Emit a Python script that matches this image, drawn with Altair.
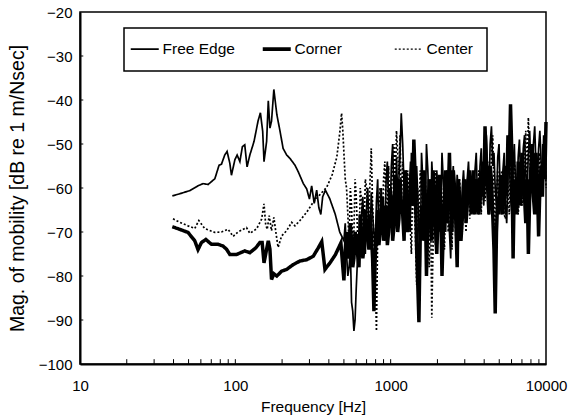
import altair as alt
import pandas as pd

series_names = ["Free Edge", "Corner", "Center"]

# ---- low-frequency part ----
fe_lo_freq = [39.3, 43.9, 50.9, 57.5, 62.0, 66.8, 73.8, 78.6, 81.4, 85.5,
              88.5, 92.2, 94.4, 99.3, 102.7, 107, 111, 115, 119, 124,
              132, 140, 145, 150, 153, 159, 163, 167, 171, 177,
              185, 194, 203, 214, 225, 242, 254, 274, 288, 300,
              310, 322, 334, 345, 355, 365, 380, 405, 440, 470]
fe_lo_mag = [-61.8, -61.3, -60.6, -59.5, -59.0, -59.2, -57.9, -54.8, -54.6, -52.5,
             -51.7, -54.4, -57.1, -53.6, -52.5, -54.0, -50.6, -50.2, -55.2, -52.5,
             -49.4, -44.8, -42.9, -47.1, -54.0, -49.4, -40.2, -46.4, -44.8, -37.6,
             -43.3, -47.1, -51.0, -52.5, -53.3, -54.8, -56.3, -59.0, -60.2, -62.5,
             -59.5, -63.5, -60.5, -64.5, -66.0, -62.0, -60.5, -62.4, -66.0, -70.0]

co_lo_freq = [39.3, 43.9, 49.6, 54.8, 57.5, 60.5, 64.6, 70.2, 77.4, 83.4,
              87.7, 92.2, 101.9, 115, 124, 135.5, 143.8, 148.8, 153, 159,
              163, 167, 171, 177, 185, 198.6, 214, 236, 260.6, 288,
              317.6, 342, 360, 377.6, 407, 440, 478]
co_lo_mag = [-68.8, -69.4, -70.1, -72.0, -74.0, -72.4, -71.7, -72.8, -72.8, -73.2,
             -73.9, -75.1, -75.1, -74.3, -74.7, -73.6, -72.4, -72.4, -77.0, -73.9,
             -72.0, -73.9, -80.8, -79.5, -80.0, -78.9, -78.5, -77.4, -76.6, -76.3,
             -75.5, -73.6, -72.2, -78.5, -77.0, -75.2, -72.5]

ce_lo_freq = [39.7, 43.9, 49.6, 54.8, 58.2, 63.5, 73.8, 81.4, 89.8, 96.8,
              104, 118, 124, 137, 147.6, 153, 156.7, 160.4, 165.2, 171,
              177, 185, 188.6, 198.6, 214, 230.5, 242, 260.6, 288, 317.6,
              350.6, 388, 420, 450, 470, 483, 492]
ce_lo_mag = [-67.0, -67.8, -68.6, -69.2, -67.4, -69.2, -70.1, -70.0, -69.4, -71.0,
             -70.0, -69.0, -70.3, -69.3, -67.1, -63.6, -68.2, -69.4, -66.3, -69.7,
             -66.7, -71.6, -73.5, -70.9, -69.7, -67.8, -68.6, -67.4, -65.5, -63.2,
             -61.5, -59.8, -57.0, -53.0, -47.5, -43.0, -47.0]

# ---- high-frequency part (dense) ----
hf_freq = [500, 520, 540, 560, 580, 600, 625, 650, 675, 700,
           725, 750, 780, 810, 840, 870, 900, 935, 970, 1010,
           1050, 1090, 1130, 1170, 1220, 1260, 1310, 1360, 1410, 1470,
           1520, 1580, 1640, 1700, 1770, 1840, 1910, 1980, 2060, 2140,
           2220, 2300, 2390, 2480, 2580, 2680, 2780, 2890, 3000, 3110,
           3230, 3360, 3490, 3620, 3760, 3900, 4050, 4210, 4370, 4540,
           4710, 4890, 5080, 5280, 5480, 5690, 5910, 6140, 6370, 6620,
           6870, 7140, 7410, 7700, 8000, 8300, 8620, 8960, 9300, 9660,
           10000]
hf2_freq = [510, 530, 550, 570, 590, 612, 637, 662, 687, 712,
            737, 765, 795, 825, 855, 885, 917, 952, 990, 1030,
            1070, 1110, 1150, 1195, 1240, 1285, 1335, 1385, 1440, 1495,
            1550, 1610, 1670, 1735, 1805, 1875, 1945, 2020, 2100, 2180,
            2260, 2345, 2435, 2530, 2630, 2730, 2835, 2945, 3055, 3170,
            3295, 3425, 3555, 3690, 3830, 3975, 4130, 4290, 4455, 4625,
            4800, 4985, 5180, 5380, 5585, 5800, 6025, 6255, 6495, 6745,
            7005, 7275, 7555, 7850, 8150, 8460, 8790, 9130, 9480, 9830]

fe_hi_mag = [-72, -75, -78, -86, -92.5, -83, -70, -66, -72, -64,
             -69, -61, -70, -63, -71, -60, -66, -58, -64, -55,
             -62, -53, -58, -43, -60, -56, -66, -52, -61, -55,
             -70, -52, -63, -50, -66, -54, -68, -56, -63, -52,
             -66, -58, -70, -60, -65, -57, -64, -60, -62, -58,
             -61, -60, -56, -62, -55, -60, -52, -57, -50, -55,
             -60, -53, -62, -56, -64, -57, -62, -55, -60, -53,
             -58, -51, -57, -52, -56, -50, -55, -51, -54, -48,
             -58]
fe_hi2_mag = [-68, -80, -74, -88, -90, -76, -74, -62, -75, -60,
              -72, -66, -74, -58, -66, -70, -72, -54, -68, -50,
              -66, -62, -52, -50, -64, -60, -70, -57, -66, -62,
              -78, -58, -68, -56, -72, -60, -73, -61, -67, -58,
              -70, -63, -76, -55, -69, -61, -68, -56, -66, -54,
              -65, -64, -52, -66, -51, -64, -48, -61, -46, -52,
              -64, -50, -66, -52, -68, -53, -66, -50, -64, -49,
              -62, -48, -61, -47, -60, -46, -59, -47, -58, -52]

co_hi_mag = [-81, -70, -74, -72, -76, -71, -78, -70, -73, -68,
             -74, -70, -88, -71, -73, -66, -72, -64, -70, -62,
             -69, -60, -67, -63, -72, -60, -68, -54, -49, -74,
             -90.5, -64, -56, -80, -58, -72, -60, -75, -57, -80,
             -62, -68, -52, -70, -60, -78, -62, -67, -58, -64,
             -56, -62, -66, -58, -63, -54, -46, -60, -55, -66,
             -88.5, -62, -57, -66, -55, -48, -41, -76, -60, -54,
             -64, -56, -68, -75, -55, -62, -52, -71, -55, -50,
             -45]
co_hi2_mag = [-74, -76, -68, -78, -70, -75, -66, -76, -65, -72,
              -66, -76, -76, -65, -70, -62, -68, -73, -60, -72,
              -57, -70, -58, -66, -56, -70, -60, -64, -58, -82,
              -70, -72, -62, -66, -64, -56, -68, -66, -64, -70,
              -56, -62, -64, -56, -68, -58, -72, -62, -68, -58,
              -66, -56, -60, -66, -58, -62, -54, -66, -58, -74,
              -70, -66, -60, -58, -62, -55, -52, -58, -66, -59,
              -52, -62, -58, -62, -50, -66, -58, -60, -62, -58]

ce_hi_mag = [-52, -60, -73, -64, -70, -62, -74, -63, -69, -60,
             -66, -51, -72, -92.5, -64, -70, -58, -66, -55, -62,
             -50, -47, -57, -64, -58, -70, -61, -75, -63, -82,
             -68, -60, -72, -64, -78, -89.5, -66, -58, -70, -62,
             -74, -56, -66, -74, -62, -68, -58, -70, -64, -60,
             -67, -62, -58, -65, -60, -56, -63, -54, -61, -48,
             -70, -56, -63, -58, -67, -60, -53, -62, -57, -66,
             -55, -60, -47, -44, -60, -54, -64, -58, -62, -56,
             -60]
ce_hi2_mag = [-58, -66, -60, -74, -58, -70, -60, -72, -58, -70,
              -58, -64, -80, -70, -60, -66, -54, -64, -66, -54,
              -60, -52, -48, -54, -66, -56, -68, -58, -70, -60,
              -56, -66, -58, -70, -62, -72, -56, -64, -58, -68,
              -62, -70, -58, -64, -72, -60, -66, -58, -70, -56,
              -58, -66, -62, -56, -66, -61, -57, -66, -52, -60,
              -62, -66, -56, -66, -56, -66, -60, -54, -60, -62,
              -64, -54, -58, -52, -56, -62, -54, -52, -58, -50]

x_axis_values = [10, 20, 30, 40, 50, 60, 70, 80, 90,
                 100, 200, 300, 400, 500, 600, 700, 800, 900,
                 1000, 2000, 3000, 4000, 5000, 6000, 7000, 8000, 9000, 10000]
x_minor_ticks = [20, 30, 40, 50, 60, 70, 80, 90,
                 100, 200, 300, 400, 500, 600, 700, 800, 900,
                 1000, 2000, 3000, 4000, 5000, 6000, 7000, 8000, 9000]
y_axis_values = [-100, -90, -80, -70, -60, -50, -40, -30, -20]
y_minor_ticks = [-90, -80, -70, -60, -50, -40, -30]

rows = []


def add(name, freqs, mags):
    for f, m in zip(freqs, mags):
        rows.append({"series": name, "freq": f, "mag": m})


add("Free Edge", fe_lo_freq + hf_freq + hf2_freq, fe_lo_mag + fe_hi_mag + fe_hi2_mag)
add("Corner", co_lo_freq + hf_freq + hf2_freq, co_lo_mag + co_hi_mag + co_hi2_mag)
add("Center", ce_lo_freq + hf_freq + hf2_freq, ce_lo_mag + ce_hi_mag + ce_hi2_mag)
df = pd.DataFrame(rows)

FONT = "Liberation Sans"
x_scale = alt.Scale(type="log", domain=[10, 10000], nice=False)
y_scale = alt.Scale(domain=[-100, -20], nice=False, zero=False)

x_axis = alt.Axis(
    values=x_axis_values,
    labelExpr="(datum.value == 10 || datum.value == 100 || datum.value == 1000 || datum.value == 10000) ? format(datum.value, 'd') : ''",
    title="Frequency [Hz]",
    labelFontSize=15, titleFontSize=15.5, labelPadding=14, titlePadding=6,
    ticks=False, grid=False, labelFlush=False, labelOverlap=False,
)
y_axis = alt.Axis(
    values=y_axis_values,
    title="Mag. of mobility [dB re 1 m/Nsec]",
    labelFontSize=15, titleFontSize=19.5, labelPadding=8, titlePadding=11,
    ticks=False, grid=False, labelFlush=False,
)

legend_symbol_width = alt.ExprRef(
    expr="datum.value === 'Corner' ? 3.6 : (datum.value === 'Center' ? 1.4 : 1.8)"
)

lines = alt.Chart(df).mark_line(color="black").encode(
    x=alt.X("freq:Q", scale=x_scale, axis=x_axis),
    y=alt.Y("mag:Q", scale=y_scale, axis=y_axis),
    strokeDash=alt.StrokeDash(
        "series:N",
        scale=alt.Scale(domain=series_names, range=[[1, 0], [1, 0], [2, 2]]),
        legend=alt.Legend(
            title=None,
            orient="none",
            legendX=44,
            legendY=16,
            direction="horizontal",
            gridAlign="all",
            columnPadding=20,
            padding=13,
            symbolType="stroke",
            symbolSize=784,
            symbolStrokeColor="black",
            symbolStrokeWidth=legend_symbol_width,
            labelOffset=10,
            labelFontSize=15.5,
            labelFont=FONT,
            labelColor="black",
            strokeColor="black",
            fillColor="white",
        ),
    ),
    strokeWidth=alt.condition(
        "datum.series === 'Corner'", alt.value(3.5),
        alt.value(1.7),
    ),
    detail="series:N",
    order="freq:Q",
)

xt_df = pd.DataFrame({"freq": x_minor_ticks})
x_ticks = alt.Chart(xt_df).mark_rule(color="black", strokeWidth=1).encode(
    x=alt.X("freq:Q", scale=x_scale, axis=x_axis),
    y=alt.datum(-100),
    y2=alt.datum(-98.9),
)

yt_df = pd.DataFrame({"mag": y_minor_ticks})
y_ticks = alt.Chart(yt_df).mark_rule(color="black", strokeWidth=1).encode(
    y=alt.Y("mag:Q", scale=y_scale, axis=y_axis),
    x=alt.datum(10),
    x2=alt.datum(10.5),
)

chart = alt.layer(lines, x_ticks, y_ticks).properties(
    width=466,
    height=352,
    autosize=alt.AutoSizeParams(type="none"),
    padding={"left": 80, "top": 12, "right": 29, "bottom": 55},
    background="white",
).configure_view(
    stroke="black", strokeWidth=1.5,
).configure_axis(
    domainColor="black", domainWidth=2,
    labelColor="black", titleColor="black",
    labelFont=FONT, titleFont=FONT, titleFontWeight="normal",
).configure_legend(
    strokeWidth=1.5,
)

chart.save("out.html", embed_options={"renderer": "svg", "actions": False})
